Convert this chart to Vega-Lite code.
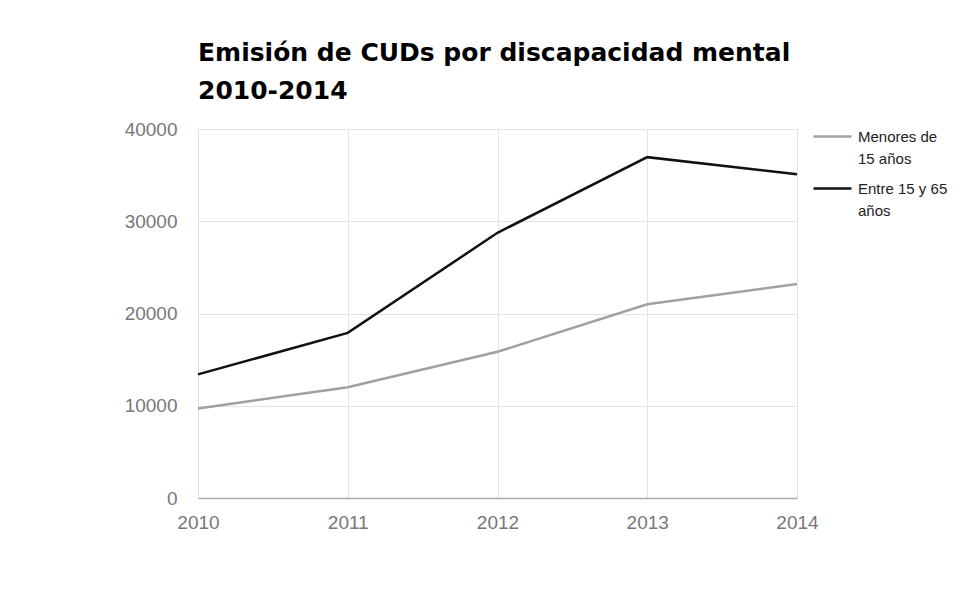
{
  "$schema": "https://vega.github.io/schema/vega-lite/v6.json",
  "width": 599,
  "height": 369,
  "autosize": {"type": "none"},
  "padding": {"left": 198, "top": 129, "right": 173, "bottom": 112},
  "background": "white",
  "title": {
    "text": ["Emisión de CUDs por discapacidad mental", "2010-2014"],
    "anchor": "start",
    "frame": "group",
    "font": "DejaVu Sans",
    "fontSize": 25,
    "fontWeight": "bold",
    "color": "#000000",
    "lineHeight": 38,
    "offset": 12
  },
  "data": {
    "values": [
      {"year": 2010, "group": "Menores de 15 años", "value": 9700},
      {"year": 2011, "group": "Menores de 15 años", "value": 12000},
      {"year": 2012, "group": "Menores de 15 años", "value": 15850},
      {"year": 2013, "group": "Menores de 15 años", "value": 21000},
      {"year": 2014, "group": "Menores de 15 años", "value": 23200},
      {"year": 2010, "group": "Entre 15 y 65 años", "value": 13400},
      {"year": 2011, "group": "Entre 15 y 65 años", "value": 17900},
      {"year": 2012, "group": "Entre 15 y 65 años", "value": 28750},
      {"year": 2013, "group": "Entre 15 y 65 años", "value": 36950},
      {"year": 2014, "group": "Entre 15 y 65 años", "value": 35100}
    ]
  },
  "mark": {"type": "line", "strokeWidth": 2.5},
  "encoding": {
    "x": {
      "field": "year",
      "type": "quantitative",
      "scale": {"domain": [2010, 2014], "nice": false, "zero": false},
      "axis": {
        "title": null,
        "values": [2010, 2011, 2012, 2013, 2014],
        "format": "d",
        "ticks": false,
        "domainColor": "#aaaaaa",
        "domainWidth": 1.5,
        "gridColor": "#e3e3e3",
        "labelPadding": 15,
        "labelFlush": false,
        "labelOverlap": false
      }
    },
    "y": {
      "field": "value",
      "type": "quantitative",
      "scale": {"domain": [0, 40000], "nice": false},
      "axis": {
        "title": null,
        "values": [0, 10000, 20000, 30000, 40000],
        "format": "d",
        "ticks": false,
        "domain": false,
        "gridColor": "#e3e3e3",
        "labelPadding": 21
      }
    },
    "color": {
      "field": "group",
      "type": "nominal",
      "scale": {
        "domain": ["Menores de 15 años", "Entre 15 y 65 años"],
        "range": ["#a0a0a0", "#111111"]
      },
      "legend": {
        "title": null,
        "orient": "none",
        "legendX": 614,
        "legendY": -13,
        "padding": 0,
        "symbolType": "stroke",
        "symbolSize": 1444,
        "symbolStrokeWidth": 2.5,
        "labelOffset": 5,
        "labelFont": "Liberation Sans",
        "labelFontSize": 15,
        "labelColor": "#222222",
        "labelBaseline": "middle",
        "labelLimit": 200,
        "rowPadding": 1,
        "labelExpr": "datum.label == 'Menores de 15 años' ? ['Menores de', '15 años'] : ['Entre 15 y 65', 'años']"
      }
    }
  },
  "config": {
    "view": {"stroke": "#e3e3e3"},
    "axis": {
      "labelFont": "Liberation Sans",
      "labelFontSize": 19,
      "labelColor": "#777777"
    },
    "style": {"guide-label": {"lineHeight": 22}}
  }
}
